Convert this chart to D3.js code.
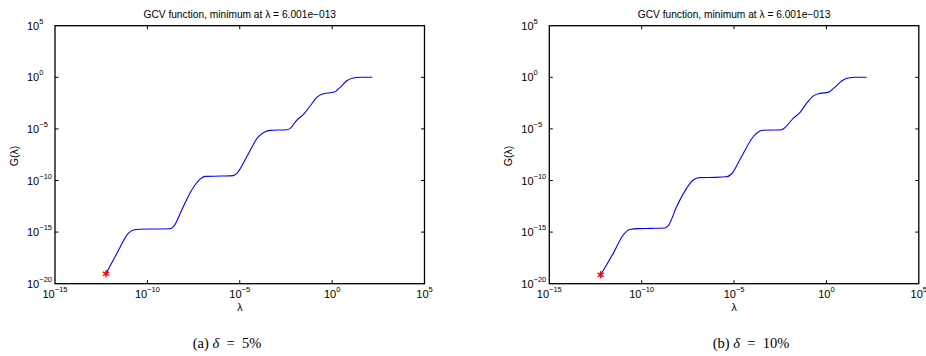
<!DOCTYPE html>
<html>
<head>
<meta charset="utf-8">
<script src="https://d3js.org/d3.v7.min.js"></script>
<style>
  body { margin: 0; background: #fff; }
  text { font-family: "Liberation Sans", Arial, sans-serif; fill: #000; }
</style>
</head>
<body>
<svg width="926" height="356"></svg>
<script>
// values, as log10 exponents
var lamA = [-12.24,-11.66,-11.03,-10.76,-10.4,-9.5,-8.8,-8.59,-8.14,-7.6,-7.15,-6.88,-6.0,-5.34,-5.16,-4.62,-3.99,-3.63,-3.36,-2.45,-2.27,-1.91,-1.55,-1.19,-0.83,-0.56,-0.11,0.13,0.43,0.79,1.15,1.52,2.18];
var gA   = [-19.03,-17.1,-15.12,-14.8,-14.72,-14.70,-14.68,-14.48,-12.86,-10.92,-9.86,-9.6,-9.57,-9.53,-9.31,-7.69,-5.76,-5.27,-5.14,-5.08,-4.95,-4.14,-3.59,-2.78,-1.94,-1.65,-1.49,-1.43,-0.98,-0.33,-0.07,0,0];
var lamB = [-12.22,-11.54,-11.0,-10.64,-10.2,-9.5,-8.74,-8.56,-8.11,-7.57,-7.21,-6.85,-6.0,-5.41,-5.14,-4.6,-3.96,-3.6,-3.42,-2.43,-2.25,-1.8,-1.44,-1.08,-0.72,-0.36,0.09,0.45,0.82,1.18,1.6,2.17];
var gB   = [-19.13,-17.06,-15.28,-14.75,-14.66,-14.64,-14.6,-14.38,-12.54,-10.76,-9.95,-9.72,-9.70,-9.64,-9.37,-7.69,-5.76,-5.21,-5.13,-5.08,-4.88,-3.98,-3.43,-2.53,-1.82,-1.56,-1.46,-0.98,-0.36,-0.07,0,0];

var xTicks = [-15, -10, -5, 0, 5];
var yTicks = [5, 0, -5, -10, -15, -20];
var titleText = "GCV function, minimum at \u03bb = 6.001e\u2212013";
var captions = [["(a) ", "\u03b4", " = 5%"], ["(b) ", "\u03b4", " = 10%"]];

var svg = d3.select("svg");

function drawPanel(left, lam, g, cap, capX) {
    var top = 25.7, bottom = 283.7, right = left + 369.5;
    var x = d3.scaleLog().domain([1e-15, 1e5]).range([left, right]);
    var y = d3.scaleLog().domain([1e-20, 1e5]).range([bottom, top]);
    var p = svg.append("g");

    // ticks pointing inward on all four sides
    xTicks.slice(1, -1).forEach(function(t) {
        var xp = x(Math.pow(10, t));
        p.append("line").attr("x1", xp).attr("x2", xp).attr("y1", bottom).attr("y2", bottom - 3.5).attr("stroke", "#000");
        p.append("line").attr("x1", xp).attr("x2", xp).attr("y1", top).attr("y2", top + 3.5).attr("stroke", "#000");
    });
    yTicks.slice(1, -1).forEach(function(t) {
        var yp = y(Math.pow(10, t));
        p.append("line").attr("x1", left).attr("x2", left + 3.5).attr("y1", yp).attr("y2", yp).attr("stroke", "#000");
        p.append("line").attr("x1", right).attr("x2", right - 3.5).attr("y1", yp).attr("y2", yp).attr("stroke", "#000");
    });
    p.append("rect").attr("x", left).attr("y", top).attr("width", right - left).attr("height", bottom - top)
        .attr("fill", "none").attr("stroke", "#000").attr("stroke-width", 1.3);

    // tick labels with superscript exponents
    xTicks.forEach(function(t) {
        var tx = p.append("text").attr("x", x(Math.pow(10, t))).attr("y", bottom + 14)
            .attr("text-anchor", "middle").attr("font-size", 11);
        tx.append("tspan").text("10");
        tx.append("tspan").attr("dy", -6).attr("font-size", 7.5).text(t < 0 ? "\u2212" + (-t) : t);
    });
    yTicks.forEach(function(t) {
        var tx = p.append("text").attr("x", left - 28).attr("y", y(Math.pow(10, t)) + 4)
            .attr("font-size", 11);
        tx.append("tspan").text("10");
        tx.append("tspan").attr("dy", -6).attr("font-size", 7.5).text(t < 0 ? "\u2212" + (-t) : t);
    });

    p.append("text").attr("x", (left + right) / 2).attr("y", 17.5).attr("text-anchor", "middle")
        .attr("font-size", 10.2).text(titleText);
    p.append("text").attr("x", (left + right) / 2).attr("y", 311).attr("text-anchor", "middle")
        .attr("font-size", 10.5).text("\u03bb");
    p.append("text").attr("transform", "translate(" + (left - 37) + "," + 156 + ") rotate(-90)")
        .attr("text-anchor", "middle").attr("font-size", 10.5).text("G(\u03bb)");

    // the curve
    var pts = lam.map(function(d, i) { return [Math.pow(10, d), Math.pow(10, g[i])]; });
    var line = d3.line().x(function(d) { return x(d[0]); }).y(function(d) { return y(d[1]); })
        .curve(d3.curveMonotoneX);
    p.append("path").datum(pts).attr("d", line).attr("fill", "none").attr("stroke", "#0000ff").attr("stroke-width", 1.1);

    // minimum marker
    var sym = d3.symbol().type(d3.symbolAsterisk || d3.symbolCross).size(36);
    p.append("path").attr("d", sym()).attr("transform", "translate(" + x(pts[0][0]) + "," + y(pts[0][1]) + ")")
        .attr("fill", "none").attr("stroke", "#ff0000").attr("stroke-width", 1.4);

    // caption
    var c = svg.append("text").attr("x", capX).attr("y", 348).attr("text-anchor", "middle")
        .attr("font-size", 14.5).style("font-family", "'Liberation Serif', 'DejaVu Serif', serif")
        .attr("xml:space", "preserve");
    c.append("tspan").text(cap[0]);
    c.append("tspan").attr("font-style", "italic").text(cap[1]);
    c.append("tspan").text(cap[2].replace(/ /g, "\u2002"));
}

drawPanel(55, lamA, gA, captions[0], 227);
drawPanel(549.3, lamB, gB, captions[1], 751);
</script>
</body>
</html>
